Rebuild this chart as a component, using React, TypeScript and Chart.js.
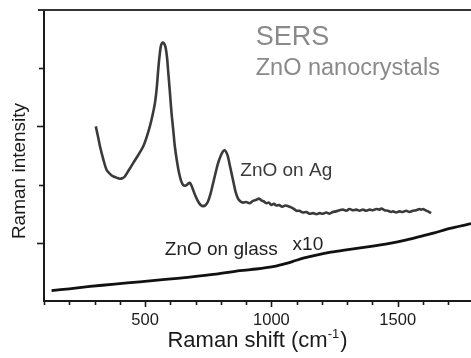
import React, { useEffect, useRef } from "react";
import { Chart, registerables } from "chart.js";

Chart.register(...registerables);

// ---- data ----
const sersShift = [305,315,322,335,348,362,374,387,400,410,420,436,453,472,492,505,519,530,539,546,552,557,562,567,572,577,582,587,591,598,605,612,618,627,635,643,651,658,664,671,677,684,690,700,710,720,730,740,749,759,769,779,789,800,808,815,821,828,838,848,858,868,878,888,900,914,927,941,951,960,970,980,990,1000,1010,1020,1030,1043,1055,1066,1078,1090,1099,1110,1125,1138,1151,1165,1178,1191,1204,1217,1230,1243,1256,1270,1283,1296,1309,1322,1336,1349,1362,1376,1389,1402,1415,1428,1435,1448,1461,1474,1481,1494,1507,1520,1533,1546,1560,1573,1586,1593,1600,1610,1620,1632];
const sersIntensity = [3.00,2.80,2.65,2.43,2.25,2.18,2.14,2.12,2.10,2.11,2.14,2.25,2.37,2.50,2.65,2.80,3.00,3.20,3.40,3.65,3.97,4.20,4.37,4.43,4.44,4.41,4.34,4.18,3.97,3.60,3.22,2.92,2.65,2.38,2.19,2.06,1.99,1.98,1.99,2.02,2.03,1.98,1.91,1.80,1.71,1.65,1.63,1.65,1.71,1.84,2.02,2.20,2.37,2.50,2.57,2.59,2.56,2.48,2.28,2.08,1.88,1.76,1.71,1.69,1.70,1.68,1.72,1.74,1.76,1.73,1.71,1.68,1.69,1.65,1.67,1.64,1.65,1.62,1.64,1.63,1.61,1.58,1.55,1.55,1.52,1.53,1.50,1.51,1.49,1.51,1.50,1.52,1.50,1.53,1.54,1.56,1.57,1.55,1.58,1.56,1.57,1.55,1.57,1.55,1.57,1.56,1.58,1.57,1.59,1.56,1.55,1.53,1.54,1.52,1.54,1.53,1.55,1.53,1.55,1.56,1.58,1.57,1.58,1.56,1.54,1.51];

const glassShift = [130,200,282,380,479,580,677,780,875,940,1006,1045,1085,1130,1178,1235,1296,1380,1468,1535,1599,1645,1692,1740,1790];
const glassIntensity = [0.18,0.21,0.25,0.29,0.33,0.37,0.41,0.46,0.52,0.55,0.59,0.63,0.68,0.74,0.79,0.84,0.88,0.93,0.99,1.05,1.12,1.17,1.23,1.28,1.33];

const xTickLabels = [500, 1000, 1500];
const xMinorTicks = [100,200,300,400,500,600,700,800,900,1000,1100,1200,1300,1400,1500,1600,1700];
const yMajorTicks = [1, 3];
const yMinorTicks = [2, 4];

const FONT = "'Liberation Sans', Arial, Helvetica, sans-serif";

const annotations = [
  { text: "SERS", x: 938, y: 4.40, size: 27, color: "#8a8a8a" },
  { text: "ZnO nanocrystals", x: 938, y: 3.88, size: 23.5, color: "#8a8a8a" },
  { text: "ZnO on Ag", x: 877, y: 2.14, size: 19, color: "#3a3a3a" },
  { text: "ZnO on glass", x: 578, y: 0.79, size: 19, color: "#222222" },
  { text: "x10", x: 1084, y: 0.876, size: 19, color: "#222222" },
];

const decorPlugin = {
  id: "decor",
  afterDraw(chart: any) {
    const { ctx, chartArea, scales } = chart;
    const xs = scales.x;
    const ys = scales.y;
    ctx.save();
    // top border
    ctx.strokeStyle = "#333";
    ctx.lineWidth = 2;
    ctx.beginPath();
    ctx.moveTo(chartArea.left - 6, chartArea.top);
    ctx.lineTo(chartArea.right, chartArea.top);
    ctx.stroke();
    // x ticks
    ctx.strokeStyle = "#1a1a1a";
    ctx.lineWidth = 1.6;
    xMinorTicks.forEach((v) => {
      const px = Math.round(xs.getPixelForValue(v)) + 0.5;
      const len = xTickLabels.includes(v) ? 5 : 3;
      ctx.beginPath();
      ctx.moveTo(px, chartArea.bottom);
      ctx.lineTo(px, chartArea.bottom + 1 + len);
      ctx.stroke();
    });
    // x tick labels
    ctx.fillStyle = "#1a1a1a";
    ctx.font = `16.5px ${FONT}`;
    ctx.textAlign = "center";
    ctx.textBaseline = "alphabetic";
    xTickLabels.forEach((v) => {
      ctx.fillText(String(v), xs.getPixelForValue(v), chartArea.bottom + 24);
    });
    // y ticks
    [...yMajorTicks, ...yMinorTicks].forEach((v) => {
      const py = Math.round(ys.getPixelForValue(v)) + 0.5;
      const len = yMajorTicks.includes(v) ? 6 : 4;
      ctx.beginPath();
      ctx.moveTo(chartArea.left, py);
      ctx.lineTo(chartArea.left - 1 - len, py);
      ctx.stroke();
    });
    // annotations
    ctx.textAlign = "left";
    ctx.textBaseline = "alphabetic";
    annotations.forEach((a) => {
      ctx.font = `${a.size}px ${FONT}`;
      ctx.fillStyle = a.color;
      ctx.fillText(a.text, xs.getPixelForValue(a.x), ys.getPixelForValue(a.y));
    });
    // x title with superscript
    const main = "Raman shift (cm";
    const sup = "-1";
    const end = ")";
    ctx.fillStyle = "#1a1a1a";
    ctx.font = `22px ${FONT}`;
    const w1 = ctx.measureText(main).width;
    const w3 = ctx.measureText(end).width;
    ctx.font = `13px ${FONT}`;
    const w2 = ctx.measureText(sup).width;
    const total = w1 + w2 + w3 + 1;
    const cx = (chartArea.left + chartArea.right) / 2;
    const base = chartArea.bottom + 46;
    let sx = cx - total / 2;
    ctx.font = `22px ${FONT}`;
    ctx.fillText(main, sx, base);
    sx += w1;
    ctx.font = `13px ${FONT}`;
    ctx.fillText(sup, sx, base - 9);
    sx += w2 + 1;
    ctx.font = `22px ${FONT}`;
    ctx.fillText(end, sx, base);
    // y title
    ctx.save();
    ctx.translate(chartArea.left - 19, chartArea.top + 161);
    ctx.rotate(-Math.PI / 2);
    ctx.textAlign = "center";
    ctx.font = `19px ${FONT}`;
    ctx.fillText("Raman intensity", 0, 0);
    ctx.restore();
    ctx.restore();
  },
};

export default function App() {
  const ref = useRef<HTMLCanvasElement | null>(null);
  useEffect(() => {
    if (!ref.current) return;
    const chart = new Chart(ref.current, {
      type: "line",
      data: {
        datasets: [
          {
            label: "ZnO on Ag",
            data: sersShift.map((x, i) => ({ x, y: sersIntensity[i] })),
            borderColor: "#3a3a3a",
            borderWidth: 2.6,
            pointRadius: 0,
            tension: 0.3,
            fill: false,
          },
          {
            label: "ZnO on glass",
            data: glassShift.map((x, i) => ({ x, y: glassIntensity[i] })),
            borderColor: "#111111",
            borderWidth: 2.8,
            pointRadius: 0,
            tension: 0.3,
            fill: false,
          },
        ],
      },
      options: {
        animation: false,
        responsive: false,
        maintainAspectRatio: false,
        layout: { padding: { top: 10, right: 0, left: 0, bottom: 0 } },
        plugins: { legend: { display: false }, tooltip: { enabled: false }, title: { display: false } },
        scales: {
          x: {
            type: "linear",
            min: 100,
            max: 1790,
            grid: { display: false, drawTicks: false },
            border: { display: true, color: "#1a1a1a", width: 2 },
            ticks: { display: false, stepSize: 100 },
            afterFit: (s: any) => {
              s.height = 57;
            },
          },
          y: {
            type: "linear",
            min: 0,
            max: 5,
            grid: { display: false, drawTicks: false },
            border: { display: true, color: "#1a1a1a", width: 2 },
            ticks: { display: false, stepSize: 1 },
            afterFit: (s: any) => {
              s.width = 44;
            },
          },
        },
      },
      plugins: [decorPlugin],
    });
    return () => chart.destroy();
  }, []);
  return (
    <div style={{ position: "fixed", left: 0, top: 0, width: 471, height: 358, background: "#fff" }}>
      <canvas ref={ref} width={471} height={358} />
    </div>
  );
}
